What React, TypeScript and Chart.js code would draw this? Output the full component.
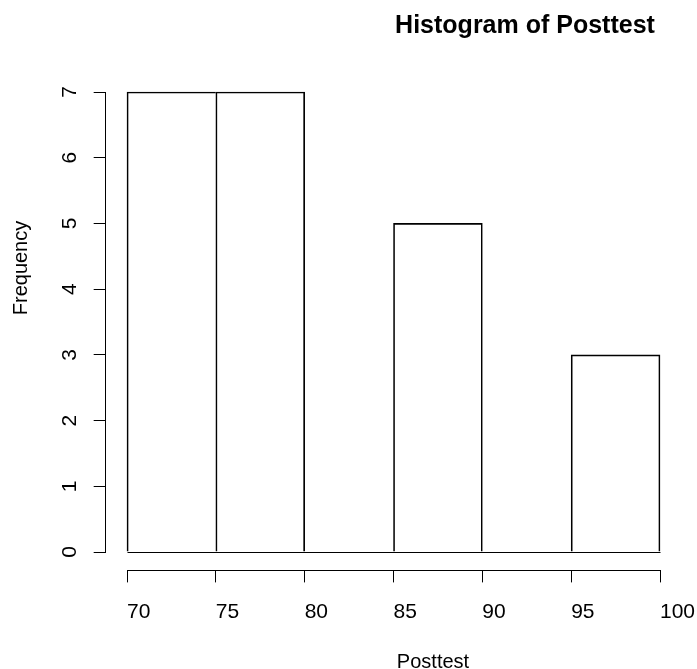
import React, { useEffect, useRef } from 'react';
import { Chart, registerables } from 'chart.js';

Chart.register(...registerables);

// ---- data ----
const binStarts = [70, 75, 80, 85, 90, 95];
const binWidth = 5;
const counts = [7, 7, 0, 5, 0, 3];
const xTicks = [70, 75, 80, 85, 90, 95, 100];
const yTicks = [0, 1, 2, 3, 4, 5, 6, 7];
const titleText = 'Histogram of Posttest';
const xLabel = 'Posttest';
const yLabel = 'Frequency';

const W = 697;
const H = 669;
const FONT = '"Liberation Sans", Arial, Helvetica, sans-serif';

export default function App() {
  const ref = useRef<HTMLCanvasElement>(null);

  useEffect(() => {
    if (!ref.current) return;
    const xMin = binStarts[0];
    const xMax = binStarts[binStarts.length - 1] + binWidth;
    const yMaxV = Math.max(...counts);
    const xPad = (xMax - xMin) * 0.04;
    const yPad = yMaxV * 0.04;

    // layout anchors (pixels of the data range in the plot)
    const pxLeft = 127, pxRight = 660, pyTop = 92, pyBottom = 552;
    const xs = (pxRight - pxLeft) / (xMax - xMin);
    const ys = (pyBottom - pyTop) / yMaxV;
    const areaLeft = pxLeft - xPad * xs;
    const areaRight = pxRight + xPad * xs;
    const areaTop = pyTop - yPad * ys;
    const areaBottom = pyBottom + yPad * ys;

    const al = (p: number) => Math.round(p - 0.5) + 0.5;

    const rPlugin = {
      id: 'rStyle',
      afterDatasetsDraw(chart: any) {
        const ctx = chart.ctx;
        const x = chart.scales.x;
        const y = chart.scales.y;
        ctx.save();
        ctx.strokeStyle = '#000';
        ctx.lineWidth = 1;
        // baseline of histogram (bottom edges of all bins)
        const by = al(y.getPixelForValue(0));
        ctx.beginPath();
        ctx.moveTo(al(x.getPixelForValue(xMin)), by);
        ctx.lineTo(al(x.getPixelForValue(xMax)), by);
        ctx.stroke();
        // x axis line
        const ay = al(chart.chartArea.bottom);
        ctx.beginPath();
        ctx.moveTo(al(x.getPixelForValue(xTicks[0])), ay);
        ctx.lineTo(al(x.getPixelForValue(xTicks[xTicks.length - 1])), ay);
        ctx.stroke();
        // y axis line
        const ax = al(chart.chartArea.left);
        ctx.beginPath();
        ctx.moveTo(ax, al(y.getPixelForValue(yTicks[0])));
        ctx.lineTo(ax, al(y.getPixelForValue(yTicks[yTicks.length - 1])));
        ctx.stroke();
        ctx.restore();
      },
      afterDraw(chart: any) {
        const ctx = chart.ctx;
        ctx.save();
        ctx.fillStyle = '#000';
        ctx.textBaseline = 'alphabetic';
        ctx.textAlign = 'center';
        ctx.font = `bold 25px ${FONT}`;
        ctx.fillText(titleText, 525, 33);
        ctx.font = `20px ${FONT}`;
        ctx.fillText(xLabel, 433, 668);
        ctx.translate(27, 268);
        ctx.rotate(-Math.PI / 2);
        ctx.fillText(yLabel, 0, 0);
        ctx.restore();
      },
    };

    const n = counts.length;
    const chart = new Chart(ref.current, {
      type: 'bar',
      data: {
        datasets: [
          {
            data: binStarts.map((s, i) => ({ x: s + binWidth / 2, y: counts[i] })),
            backgroundColor: 'rgba(0,0,0,0)',
            borderColor: '#000',
            borderSkipped: false,
            borderWidth: (c: any) => {
              const i = c.dataIndex;
              const right = i === n - 1 || counts[i + 1] < counts[i] ? 1 : 0;
              return { top: 1, left: 1, right, bottom: 0 };
            },
            barPercentage: 1,
            categoryPercentage: 1,
          } as any,
        ],
      },
      options: {
        responsive: false,
        animation: false,
        devicePixelRatio: 1,
        events: [],
        layout: { autoPadding: false, padding: { top: areaTop, right: W - areaRight, left: 0, bottom: 0 } },
        plugins: {
          legend: { display: false },
          tooltip: { enabled: false },
          title: { display: false },
        },
        scales: {
          x: {
            type: 'linear',
            min: xMin - xPad,
            max: xMax + xPad,
            offset: false,
            grid: { display: true, drawOnChartArea: false, drawTicks: true, tickLength: 12, color: '#000', lineWidth: 1, offset: false },
            border: { display: false },
            ticks: { color: '#000', font: { family: FONT, size: 21 }, padding: 17.5, align: 'start', maxRotation: 0, minRotation: 0, autoSkip: false },
            afterBuildTicks: (s: any) => { s.ticks = xTicks.map((v) => ({ value: v })); },
            afterFit: (s: any) => { s.height = H - areaBottom; s.paddingLeft = 0; s.paddingRight = 0; },
          },
          y: {
            type: 'linear',
            min: -yPad,
            max: yMaxV + yPad,
            grid: { display: true, drawOnChartArea: false, drawTicks: true, tickLength: 12, color: '#000', lineWidth: 1 },
            border: { display: false },
            ticks: { color: '#000', font: { family: FONT, size: 21 }, padding: 17.8, minRotation: 90, maxRotation: 90, crossAlign: 'center', autoSkip: false },
            afterBuildTicks: (s: any) => { s.ticks = yTicks.map((v) => ({ value: v })); },
            afterFit: (s: any) => { s.width = areaLeft; s.paddingTop = 0; s.paddingBottom = 0; },
          },
        },
      } as any,
      plugins: [rPlugin],
    });
    return () => chart.destroy();
  }, []);

  return (
    <div style={{ position: 'absolute', left: 0, top: 0, width: W, height: H, background: '#fff' }}>
      <canvas ref={ref} width={W} height={H} style={{ display: 'block', width: W, height: H }} />
    </div>
  );
}
